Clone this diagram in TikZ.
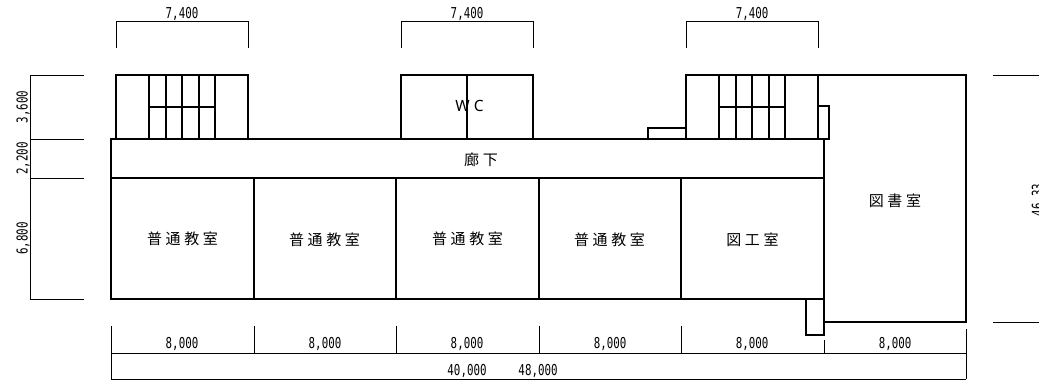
\documentclass[tikz,border=0pt]{standalone}
\usepackage{fontspec}
\newfontfamily\dimfont[FakeStretch=0.72]{DejaVu Sans Mono}
\newfontfamily\roomfont[LetterSpace=24]{Noto Sans CJK JP}
\newfontfamily\latinfont[LetterSpace=28]{Noto Sans}
\usetikzlibrary{positioning}
\begin{document}
\begin{tikzpicture}[x=1pt,y=-1pt,
wall/.style={draw,line width=1.5pt},
dimline/.style={draw,line width=.8pt},
dim/.style={inner sep=0pt,font=\dimfont\fontsize{15}{16}\selectfont},
room/.style={inner sep=0pt,font=\roomfont\fontsize{15}{17}\selectfont}]
\useasboundingbox (0,0) rectangle (1039,382);
% top dimensions
\foreach \xa/\name in {116/a,401/b,686/c} {
  \coordinate (t\name1) at (\xa,48);
  \coordinate (t\name2) at (\xa,21);
  \coordinate (t\name3) at (\xa+132,21);
  \coordinate (t\name4) at (\xa+132,48);
  \draw[dimline] (t\name1) -- (t\name2) -- (t\name3) -- (t\name4);
  \node (toplabel\name) [dim] at (\xa+66,13.500) {7,400};
}
% left dimensions
\coordinate (la) at (30,75);
\coordinate (lb) at (30,139);
\coordinate (lc) at (30,178);
\coordinate (ld) at (30,299);
\draw[dimline] (la) -- (ld);
\foreach \p in {la,lb,lc,ld} {
  \draw[dimline] (\p) -- ++(54,0);
}
\node (lefta) [dim,rotate=90] at (23,107) {3,600};
\node (leftb) [dim,rotate=90] at (23,158.500) {2,200};
\node (leftc) [dim,rotate=90] at (23,238.500) {6,800};
% stairs
\foreach \xa/\name in {116/a,686/c} {
  \draw[wall] (\xa,139) rectangle (\xa+132,75);
  \foreach \s in {33,50,66,83,99} {
    \draw[wall] (\xa+\s,75) -- (\xa+\s,139);
  }
  \draw[wall] (\xa+33,107) -- (\xa+99,107);
}
% WC
\draw[wall] (401,139) rectangle (533,75);
\draw[wall] (467,75) -- (467,139);
\node (wc) [inner sep=0pt,font=\latinfont\fontsize{15.500}{17}\selectfont] at (469.500,106) {WC};
% library and small parts
\draw[wall] (818,75) -- (966,75) -- (966,322) -- (824,322);
\draw[wall] (824,139) -- (824,335) -- (806,335) -- (806,299);
\draw[wall] (818,106) -- (829,106) -- (829,139) -- (818,139);
\draw[wall] (648,139) -- (648,128) -- (686,128);
\node (library) [room] at (895,201) {図書室};
% corridor and classrooms
\draw[wall] (111,139) rectangle (824,178);
\node (corridor) [room] at (481,160) {廊下};
\draw[wall] (111,178) rectangle (824,299);
\foreach \xa in {254,396,539,681} {
  \draw[wall] (\xa,178) -- (\xa,299);
}
\node (rooma) [room] at (182.500,239) {普通教室};
\node (roomb) [room] at (324.500,240) {普通教室};
\node (roomc) [room] at (467.500,239) {普通教室};
\node (roomd) [room] at (609.500,240) {普通教室};
\node (roome) [room] at (752.500,240) {図工室};
% right dimension
\coordinate (ra) at (993,75);
\coordinate (rb) at (993,322);
\draw[dimline] (ra) -- ++(46,0);
\draw[dimline] (rb) -- ++(46,0);
\node (rightlabel) [dim,rotate=90,anchor=north] at (1031.500,200) {46,33};
% bottom dimensions
\draw[dimline] (111,353) -- (966,353);
\draw[dimline] (111,379) -- (966,379);
\draw[dimline] (111,326) -- (111,379);
\draw[dimline] (966,329) -- (966,379);
\foreach \xa in {254,396,539,681} {
  \draw[dimline] (\xa,326) -- (\xa,353);
}
\draw[dimline] (824,340) -- (824,353);
\foreach \xa in {182,325,467,610,752,895} {
  \node [dim] at (\xa,343.500) {8,000};
}
\node (totala) [dim] at (467,371) {40,000};
\node (totalb) [dim] at (538,371) {48,000};
\end{tikzpicture}
\end{document}
